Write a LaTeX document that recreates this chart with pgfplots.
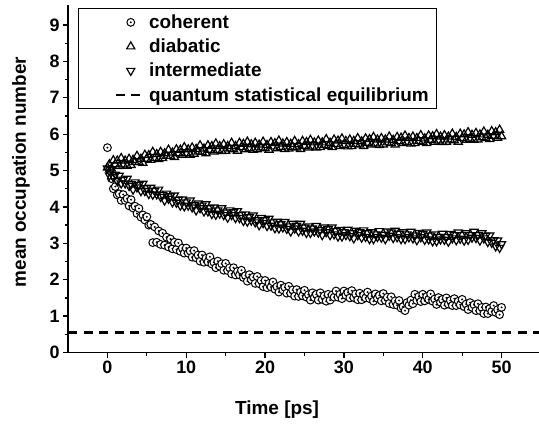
\documentclass[border=0pt]{standalone}
\usepackage{fontspec}
\setmainfont{Liberation Sans}
\usepackage{pgfplots}
\pgfplotsset{compat=1.18}
\usepackage{pgfplotstable}

\pgfdeclareplotmark{circdot}{%
  \pgfscope
  \pgfpathcircle{\pgfpointorigin}{\pgfplotmarksize}%
  \pgfusepathqfillstroke
  \endpgfscope
  \pgfscope
  \pgfsetfillcolor{black}%
  \pgfpathcircle{\pgfpointorigin}{0.28\pgfplotmarksize}%
  \pgfusepathqfill
  \endpgfscope
}

\pgfplotstableread{
t c d i
0 5.63 5.08 5.06
0.25 5.00 5.17 4.87
0.5 4.78 5.05 5.04
0.75 4.50 5.28 4.82
1 4.56 5.17 4.89
1.25 4.33 5.27 4.71
1.5 4.36 5.12 4.86
1.75 4.18 5.34 4.65
2 4.34 5.16 4.75
2.25 4.18 5.27 4.65
2.5 4.23 5.13 4.78
2.75 4.03 5.32 4.58
3 4.20 5.15 4.63
3.25 3.97 5.29 4.48
3.5 4.02 5.23 4.68
3.75 3.82 5.40 4.54
4 3.96 5.23 4.61
4.25 3.72 5.32 4.44
4.5 3.78 5.21 4.64
4.75 3.64 5.43 4.44
5 3.73 5.32 4.52
5.25 3.50 5.42 4.36
5.5 3.52 5.29 4.53
5.75 3.02 5.51 4.34
6 3.45 5.34 4.45
6.25 3.03 5.45 4.35
6.5 3.34 5.31 4.48
6.75 2.97 5.51 4.28
7 3.28 5.34 4.33
7.25 2.95 5.47 4.18
7.5 3.17 5.40 4.37
7.75 2.90 5.57 4.23
8 3.12 5.40 4.30
8.25 2.85 5.49 4.13
8.5 3.03 5.37 4.32
8.75 2.83 5.58 4.12
9 3.01 5.47 4.20
9.25 2.78 5.57 4.04
9.5 2.87 5.43 4.21
9.75 2.73 5.64 4.02
10 2.87 5.47 4.13
10.25 2.73 5.58 4.04
10.5 2.79 5.43 4.18
10.75 2.62 5.63 3.99
11 2.80 5.46 4.05
11.25 2.60 5.59 3.91
11.5 2.68 5.52 4.10
11.75 2.51 5.69 3.97
12 2.68 5.51 4.04
12.25 2.48 5.60 3.88
12.5 2.59 5.47 4.08
12.75 2.49 5.69 3.88
13 2.63 5.57 3.97
13.25 2.43 5.67 3.81
13.5 2.48 5.52 3.99
13.75 2.33 5.74 3.79
14 2.51 5.56 3.91
14.25 2.37 5.67 3.82
14.5 2.44 5.53 3.97
14.75 2.26 5.72 3.78
15 2.45 5.54 3.85
15.25 2.25 5.67 3.71
15.5 2.33 5.60 3.91
15.75 2.16 5.76 3.78
16 2.33 5.58 3.86
16.25 2.13 5.67 3.70
16.5 2.23 5.54 3.89
16.75 2.13 5.76 3.70
17 2.26 5.64 3.78
17.25 2.06 5.73 3.62
17.5 2.11 5.58 3.80
17.75 1.96 5.79 3.60
18 2.14 5.61 3.72
18.25 2.00 5.72 3.63
18.5 2.07 5.57 3.77
18.75 1.90 5.76 3.58
19 2.09 5.58 3.64
19.25 1.89 5.71 3.50
19.5 1.98 5.63 3.70
19.75 1.81 5.79 3.56
20 1.98 5.61 3.64
20.25 1.78 5.70 3.48
20.5 1.90 5.57 3.68
20.75 1.80 5.78 3.49
21 1.94 5.66 3.58
21.25 1.74 5.75 3.42
21.5 1.81 5.61 3.60
21.75 1.66 5.82 3.41
22 1.85 5.64 3.53
22.25 1.72 5.74 3.44
22.5 1.79 5.59 3.59
22.75 1.63 5.78 3.40
23 1.82 5.60 3.47
23.25 1.63 5.73 3.33
23.5 1.72 5.65 3.54
23.75 1.55 5.81 3.41
24 1.73 5.63 3.49
24.25 1.54 5.72 3.33
24.5 1.66 5.59 3.54
24.75 1.56 5.81 3.35
25 1.71 5.68 3.44
25.25 1.52 5.78 3.29
25.5 1.59 5.63 3.47
25.75 1.44 5.84 3.29
26 1.64 5.66 3.41
26.25 1.51 5.77 3.33
26.5 1.60 5.63 3.48
26.75 1.44 5.82 3.30
27 1.64 5.64 3.37
27.25 1.46 5.77 3.23
27.5 1.56 5.70 3.44
27.75 1.41 5.86 3.31
28 1.60 5.68 3.39
28.25 1.44 5.76 3.23
28.5 1.58 5.64 3.44
28.75 1.52 5.85 3.25
29 1.69 5.73 3.34
29.25 1.52 5.82 3.19
29.5 1.60 5.67 3.37
29.75 1.48 5.88 3.19
30 1.69 5.70 3.31
30.25 1.57 5.81 3.23
30.5 1.65 5.66 3.38
30.75 1.50 5.85 3.20
31 1.70 5.67 3.28
31.25 1.51 5.81 3.14
31.5 1.61 5.73 3.35
31.75 1.45 5.89 3.23
32 1.63 5.71 3.31
32.25 1.45 5.80 3.16
32.5 1.58 5.67 3.36
32.75 1.50 5.88 3.18
33 1.66 5.76 3.28
33.25 1.48 5.86 3.12
33.5 1.55 5.71 3.31
33.75 1.41 5.92 3.12
34 1.61 5.74 3.25
34.25 1.49 5.85 3.18
34.5 1.57 5.70 3.34
34.75 1.42 5.89 3.16
35 1.62 5.71 3.24
35.25 1.43 5.85 3.12
35.5 1.52 5.77 3.33
35.75 1.35 5.93 3.21
36 1.53 5.75 3.30
36.25 1.32 5.84 3.15
36.5 1.42 5.71 3.35
36.75 1.30 5.92 3.17
37 1.43 5.80 3.27
37.25 1.22 5.90 3.12
37.5 1.26 5.75 3.31
37.75 1.15 5.96 3.12
38 1.37 5.78 3.25
38.25 1.30 5.89 3.17
38.5 1.44 5.74 3.32
38.75 1.34 5.93 3.14
39 1.60 5.75 3.22
39.25 1.43 5.89 3.09
39.5 1.54 5.81 3.29
39.75 1.40 5.97 3.17
40 1.60 5.79 3.26
40.25 1.42 5.88 3.10
40.5 1.54 5.75 3.30
40.75 1.46 5.96 3.11
41 1.61 5.84 3.22
41.25 1.41 5.94 3.06
41.5 1.47 5.79 3.25
41.75 1.32 6.00 3.06
42 1.51 5.82 3.18
42.25 1.38 5.93 3.11
42.5 1.46 5.78 3.27
42.75 1.30 5.97 3.10
43 1.50 5.79 3.18
43.25 1.33 5.93 3.05
43.5 1.43 5.85 3.26
43.75 1.29 6.01 3.14
44 1.48 5.83 3.23
44.25 1.29 5.92 3.09
44.5 1.41 5.79 3.30
44.75 1.31 6.01 3.13
45 1.46 5.89 3.23
45.25 1.26 5.99 3.08
45.5 1.33 5.84 3.28
45.75 1.18 6.05 3.10
46 1.37 5.87 3.23
46.25 1.24 5.98 3.16
46.5 1.31 5.84 3.32
46.75 1.15 6.03 3.15
47 1.34 5.85 3.23
47.25 1.15 5.99 3.08
47.5 1.24 5.91 3.28
47.75 1.07 6.07 3.14
48 1.25 5.89 3.21
48.25 1.07 5.98 3.04
48.5 1.21 5.86 3.22
48.75 1.13 6.08 3.02
49 1.29 5.95 3.09
49.25 1.10 6.05 2.92
49.5 1.18 5.90 3.08
49.75 1.04 6.12 2.88
50 1.24 5.94 2.98
}\datatable

\begin{document}
\begin{tikzpicture}
\useasboundingbox (-68bp,-71.5bp) rectangle (471bp,352.5bp);
\begin{axis}[
  scale only axis, width=473bp, height=347.5bp,
  xmin=-5, xmax=55, ymin=0, ymax=9.55,
  axis x line*=bottom, axis y line*=left,
  x axis line style={-, line width=1.8bp},
  y axis line style={-, line width=1.8bp},
  xtick={0,10,...,50}, ytick={0,1,...,9},
  minor x tick num=1, minor y tick num=1,
  tick align=outside,
  major tick length=5bp, minor tick length=3bp,
  every tick/.style={black, line width=1.3bp},
  /pgf/number format/assume math mode=true,
  tick label style={font=\bfseries\fontsize{18}{18}\selectfont},
  xlabel={Time [ps]},
  ylabel={mean occupation number},
  xlabel style={font=\bfseries\fontsize{19}{19}\selectfont, at={(axis description cs:0.442,0)}, anchor=center, yshift=-57.5bp},
  ylabel style={font=\bfseries\fontsize{19}{19}\selectfont, at={(axis description cs:0,0.519)}, anchor=center, yshift=47bp},
  legend style={at={(axis description cs:0.021,0.991)}, anchor=north west, draw=black, line width=1.2bp,
    inner xsep=6bp, inner ysep=4bp, font=\bfseries\fontsize{19}{19}\selectfont, row sep=5bp,
    /tikz/every even column/.append style={column sep=2bp}},
  legend cell align=left,
  legend image code/.code={\path (-30bp,0bp) (30bp,0bp); \draw[mark repeat=2,mark phase=2,#1] plot coordinates {(0bp,0bp) (15bp,0bp) (30bp,0bp)};},
]
\addplot[only marks, mark=circdot, mark size=3.9bp, mark options={fill=white, draw=black, line width=1bp}] table[x=t,y=c]{\datatable};
\addlegendentry{coherent}
\addplot[only marks, mark=triangle, mark size=4.7bp, mark options={draw=black, line width=1.2bp}] table[x=t,y=d]{\datatable};
\addlegendentry{diabatic}
\addplot[only marks, mark=triangle, mark size=4.7bp, mark options={draw=black, line width=1.2bp, rotate=180}] table[x=t,y=i]{\datatable};
\addlegendentry{intermediate}
\addplot[black, line width=2.5bp, dash pattern=on 9bp off 6.5bp, mark=none] coordinates {(-5,0.55) (55,0.55)};
\addlegendentry{quantum statistical equilibrium}
\end{axis}
\end{tikzpicture}
\end{document}
